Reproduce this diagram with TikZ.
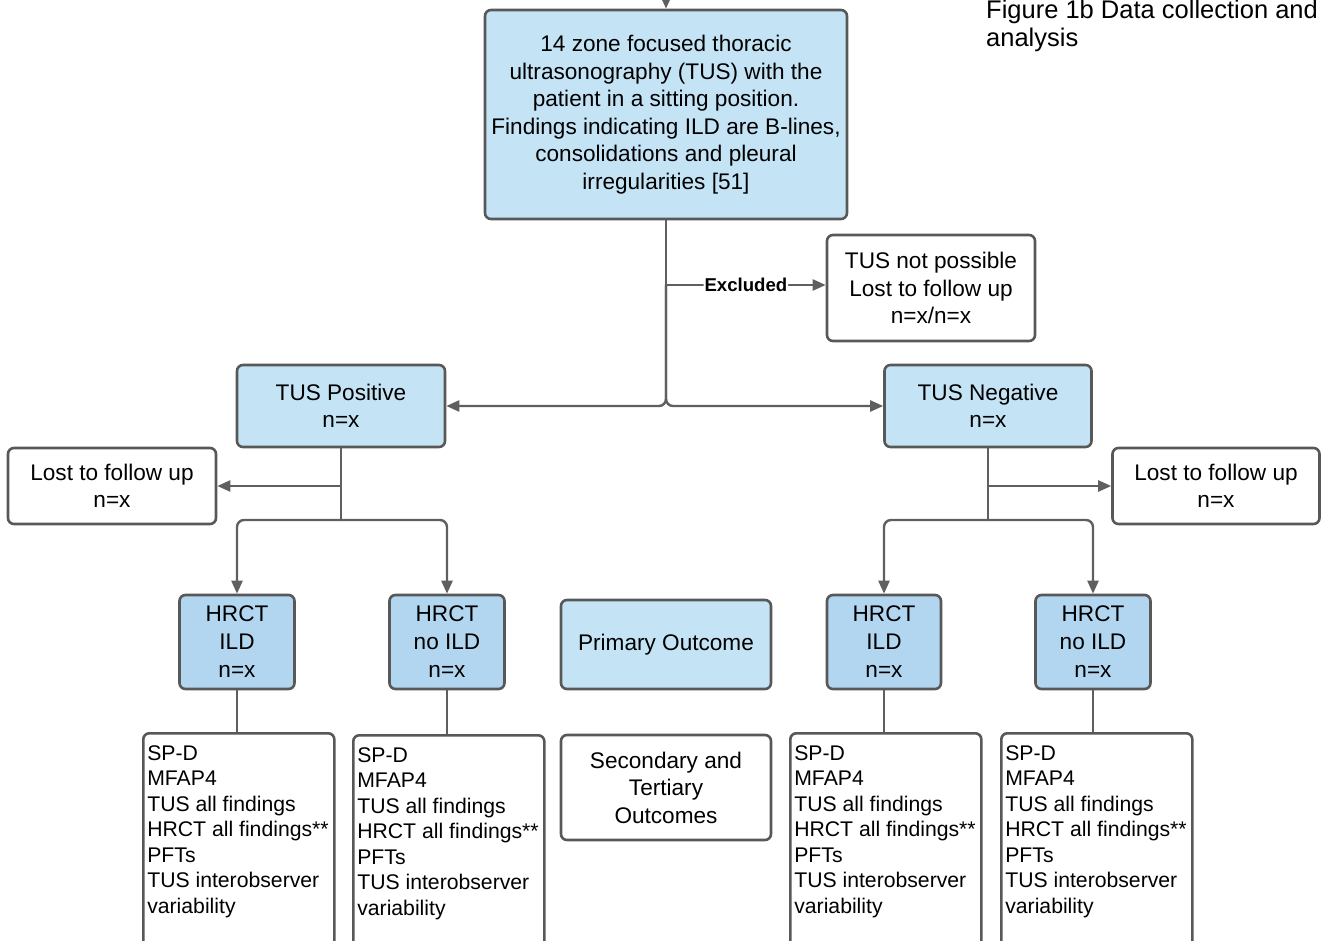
\documentclass[tikz,border=0pt]{standalone}
\usepackage{fontspec}
\setmainfont{Liberation Sans}
\usetikzlibrary{arrows.meta,positioning,calc}
\definecolor{bordc}{RGB}{88,88,88}
\definecolor{linec}{RGB}{95,95,95}
\definecolor{lblue}{RGB}{196,228,246}
\definecolor{mblue}{RGB}{178,214,240}
\tikzset{
  box/.style={draw=bordc, line width=2.6pt, rounded corners=6pt, align=center, inner sep=0pt,
              font=\fontsize{22.6}{27.5}\selectfont},
  bluebox/.style={box, fill=lblue},
  hrctbox/.style={box, fill=mblue, minimum width=115pt, minimum height=94pt, font=\fontsize{22.6}{28}\selectfont},
  listbox/.style={draw=bordc, line width=2.6pt, rounded corners=6pt, align=left, inner xsep=4pt, inner ysep=12pt,
              anchor=north west, font=\fontsize{21.2}{25.5}\selectfont},
  conn/.style={draw=linec, line width=2.4pt, rounded corners=7pt},
  arr/.style={conn, -{Triangle[length=13pt,width=11pt]}},
}
\newcommand{\listtext}{\parbox[t][222pt][t]{183pt}{SP-D\\MFAP4\\TUS all findings\\HRCT all findings**\\PFTs\\TUS interobserver\\variability}}
\begin{document}
\begin{tikzpicture}[x=1pt,y=-1pt]
\useasboundingbox (0,0) rectangle (1324,941);
\clip (0,0) rectangle (1324,941);

% title
\node[anchor=north west, inner sep=0pt, align=left, font=\fontsize{25.5}{28}\selectfont] (title) at (986,0)
  {Figure 1b Data collection and\\analysis};

% top box
\node[bluebox, minimum width=362pt, minimum height=209pt] (top) at (666,114.5)
  {14 zone focused thoracic\\ultrasonography (TUS) with the\\patient in a sitting position.\\Findings indicating ILD are B-lines,\\consolidations and pleural\\irregularities [51]};
\coordinate (in) at (666,-20);
\draw[arr] (in) -- (top.north);

% excluded
\node[box, fill=white, minimum width=208pt, minimum height=106pt] (notpos) at (931,288)
  {TUS not possible\\Lost to follow up\\n=x/n=x};

% TUS positive / negative
\node[bluebox, minimum width=208pt, minimum height=82pt] (tpos) at (341,406) {TUS Positive\\n=x};
\node[bluebox, minimum width=207pt, minimum height=82pt] (tneg) at (988,406) {TUS Negative\\n=x};

\coordinate (jx) at (666,285);
\draw[conn] (top.south) -- (jx);
\draw[arr] (jx) -- node[fill=white, inner sep=1pt, font=\bfseries\fontsize{18.6}{20}\selectfont]{Excluded} (jx -| notpos.west);
\draw[arr] (jx) |- (tpos.east);
\draw[arr] (jx) |- (tneg.west);

% lost to follow up
\node[box, fill=white, minimum width=208pt, minimum height=76pt] (lostL) at (112,486) {Lost to follow up\\n=x};
\node[box, fill=white, minimum width=207pt, minimum height=76pt] (lostR) at (1216,486) {Lost to follow up\\n=x};

% HRCT boxes
\node[hrctbox] (h1) at (237,642) {HRCT\\ILD\\n=x};
\node[hrctbox] (h2) at (447,642) {HRCT\\no ILD\\n=x};
\node[hrctbox, minimum width=114pt] (h3) at (884,642) {HRCT\\ILD\\n=x};
\node[hrctbox] (h4) at (1093,642) {HRCT\\no ILD\\n=x};

\node[bluebox, minimum width=210pt, minimum height=89pt] (prim) at (666,644.5) {Primary Outcome};
\node[box, fill=white, minimum width=210pt, minimum height=105pt] (sec) at (666,787.5) {Secondary and\\Tertiary\\Outcomes};

% left branch
\coordinate (jL) at (341,520);
\draw[arr] (tpos.south |- lostL.east) -- (lostL.east);
\draw[conn] (tpos.south) -- (jL);
\draw[arr] (jL) -| (h1.north);
\draw[arr] (jL) -| (h2.north);

% right branch
\coordinate (jR) at (988,520);
\draw[arr] (tneg.south |- lostR.west) -- (lostR.west);
\draw[conn] (tneg.south) -- (jR);
\draw[arr] (jR) -| (h3.north);
\draw[arr] (jR) -| (h4.north);

% list boxes
\node[listbox] (b1) at (142,732) {\listtext};
\node[listbox] (b2) at (352,734) {\listtext};
\node[listbox] (b3) at (789,732) {\listtext};
\node[listbox] (b4) at (1000,732) {\listtext};

\draw[conn] (h1.south) -- (h1.south |- b1.north);
\draw[conn] (h2.south) -- (h2.south |- b2.north);
\draw[conn] (h3.south) -- (h3.south |- b3.north);
\draw[conn] (h4.south) -- (h4.south |- b4.north);
\end{tikzpicture}
\end{document}
